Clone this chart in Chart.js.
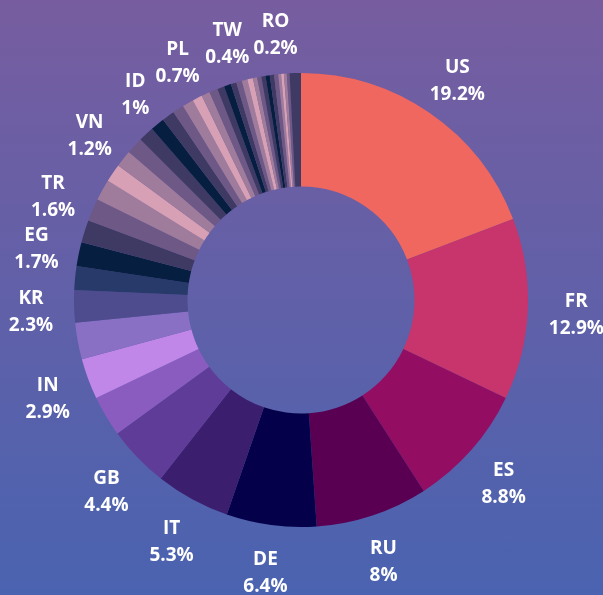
<!DOCTYPE html>
<html>
<head>
<meta charset="utf-8">
<script src="https://cdn.jsdelivr.net/npm/chart.js@4"></script>
<style>
  html, body { margin: 0; padding: 0; }
  body { width: 603px; height: 595px; background: linear-gradient(#775da0, #4a63b0); }
  #wrap { width: 603px; height: 595px; position: relative; }
</style>
</head>
<body>
<div id="wrap"><canvas id="shareChart"></canvas></div>
<script>
// country codes (blank = slice without a label in the picture)
var countries = ["US", "FR", "ES", "RU", "DE", "IT", "GB", "", "IN", "", "KR", "", "EG", "", "TR", "", "",
  "VN", "", "", "ID", "", "", "", "PL", "", "", "", "", "", "TW", "", "", "", "", "", "", "", "",
  "RO", "", "", "", ""];

var shares = [19.2, 12.9, 8.8, 8, 6.4, 5.3, 4.4, 2.9, 2.9, 2.6, 2.3, 1.7, 1.7, 1.6, 1.6, 1.5, 1.3,
  1.2, 1.2, 1.1, 1, 0.9, 0.8, 0.8, 0.7, 0.6, 0.6, 0.5, 0.5, 0.4, 0.4, 0.4, 0.4, 0.3, 0.3, 0.3, 0.3, 0.3, 0.3,
  0.2, 0.2, 0.2, 0.2, 0.8];

var colors = ["#f0675f", "#c8346c", "#930e63", "#5a0052", "#04004a", "#3b1e6e", "#5f3c98", "#8b5cc0",
  "#c086e8", "#8a70c4", "#4e4c8e", "#283a6a"];
var cycle = ["#061e40", "#3e3a64", "#6e5886", "#a07c9c", "#d8a0b4", "#a07c9c", "#6e5886", "#3e3a64"];
while (colors.length < shares.length - 1) {
  colors.push(cycle[(colors.length - 12) % cycle.length]);
}
colors.push("#3e3a64");

var sliceLabels = {
  id: 'sliceLabels',
  afterDatasetsDraw: function(chart) {
    var c = chart.ctx;
    var arcs = chart.getDatasetMeta(0).data;
    c.save();
    c.font = "bold 19px 'Open Sans'";
    c.fillStyle = "#ffffff";
    c.textAlign = "center";
    c.textBaseline = "middle";
    arcs.forEach(function(arc, i) {
      if (!countries[i]) return;
      var p = arc.getProps(['x', 'y', 'startAngle', 'endAngle', 'outerRadius'], true);
      var a = (p.startAngle + p.endAngle) / 2;
      var ux = Math.cos(a), uy = Math.sin(a);
      var txt = shares[i] + "%";
      var w = Math.max(c.measureText(txt).width, c.measureText(countries[i]).width);
      var h = 54;
      var off = 17;
      var cx = p.x + ux * (p.outerRadius + off + 4) + ux * w / 2;
      var cy = p.y + uy * (p.outerRadius + off) + uy * h / 2 + 4;
      c.fillText(countries[i], cx, cy - 13);
      c.fillText(txt, cx, cy + 14);
    });
    c.restore();
  }
};

new Chart(document.getElementById('shareChart').getContext("2d"), {
  type: 'doughnut',
  data: {
    labels: countries,
    datasets: [{
      data: shares,
      backgroundColor: colors,
      borderWidth: 0
    }]
  },
  options: {
    responsive: true,
    maintainAspectRatio: false,
    animation: false,
    cutout: '50%',
    layout: {
      padding: { left: 74, right: 75, top: 73, bottom: 68 }
    },
    plugins: {
      legend: { display: false },
      tooltip: { enabled: false }
    }
  },
  plugins: [sliceLabels]
});
</script>
</body>
</html>
